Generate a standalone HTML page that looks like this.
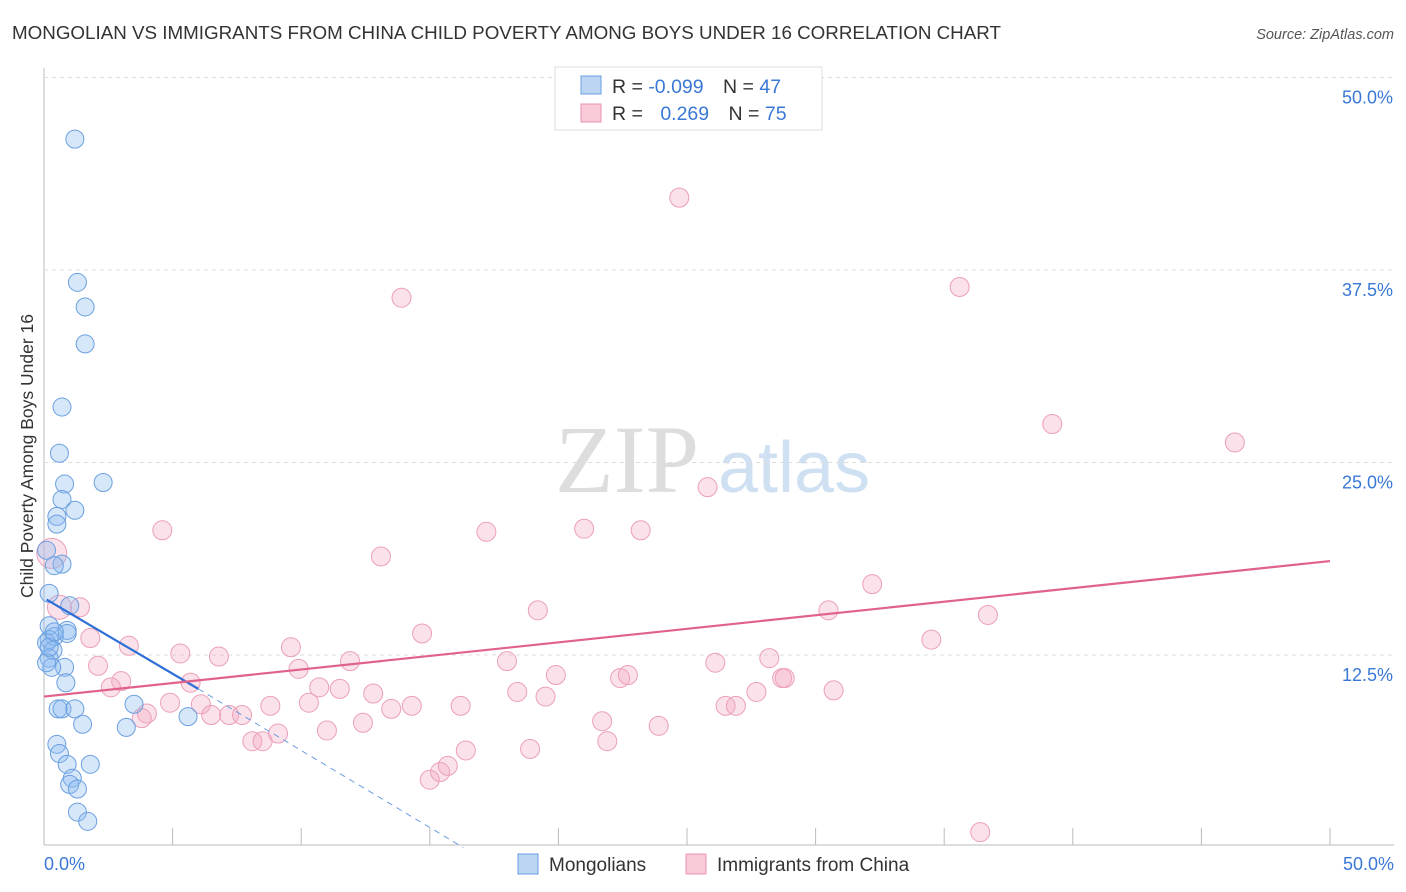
<!DOCTYPE html>
<html><head><meta charset="utf-8"><style>
body{margin:0;background:#fff;font-family:"Liberation Sans",sans-serif}
svg{display:block}
</style></head><body>
<svg id="c" width="1406" height="892">
<text x="12" y="39" font-size="18.8" fill="#333">MONGOLIAN VS IMMIGRANTS FROM CHINA CHILD POVERTY AMONG BOYS UNDER 16 CORRELATION CHART</text>
<text x="1394" y="39" font-size="14.5" fill="#555" font-style="italic" text-anchor="end">Source: ZipAtlas.com</text>
<text x="555" y="492" font-size="96" fill="#ddd" font-family="Liberation Serif,serif">ZIP</text>
<text x="718" y="492" font-size="72" fill="#cfe0f3">atlas</text>
<text transform="translate(33,456) rotate(-90)" font-size="17.5" fill="#333" text-anchor="middle">Child Poverty Among Boys Under 16</text>
<g id="grid"></g><g id="pts"></g><g id="lines"></g>
<g>
<rect x="555" y="67" width="267" height="63" fill="#fff" stroke="#ddd"/>
<rect x="581" y="76" width="20" height="18" fill="#bcd5f3" stroke="#6a9fe0"/>
<rect x="581" y="104" width="20" height="18" fill="#f9cbd8" stroke="#e890aa"/>
<text x="612" y="93" font-size="19.5" fill="#333">R = <tspan fill="#3a78d6">-0.099</tspan>  <tspan dx="14">N = </tspan><tspan fill="#3a78d6">47</tspan></text>
<text x="612" y="120" font-size="19.5" fill="#333">R = <tspan fill="#3a78d6" dx="12">0.269</tspan>  <tspan dx="14">N = </tspan><tspan fill="#3a78d6">75</tspan></text>
</g>
<g>
<rect x="518" y="854" width="20" height="20" fill="#bcd5f3" stroke="#6a9fe0"/>
<text x="549" y="871" font-size="19" fill="#333">Mongolians</text>
<rect x="686" y="854" width="20" height="20" fill="#f9cbd8" stroke="#e890aa"/>
<text x="717" y="871" font-size="19" fill="#333">Immigrants from China</text>
</g>
</svg>
<script>
const xTicks=[0,5,10,15,20,25,30,35,40,45,50];
const yTicks=[12.5,25,37.5,50];
const blueX=[1.2,1.3,1.6,1.6,0.7,0.6,2.3,0.8,0.7,1.2,0.5,0.5,0.1,0.7,0.4,0.2,1.0,0.2,0.9,0.4,0.2,0.9,0.1,0.35,0.2,0.8,0.3,0.85,0.55,0.7,1.2,3.5,1.5,3.2,5.6,0.5,0.6,1.8,0.9,1.1,1.0,1.3,1.3,1.7,0.1,0.2,0.4];
const blueY=[46.0,36.7,35.1,32.7,28.6,25.6,23.7,23.6,22.6,21.9,21.5,21.0,19.3,18.4,18.3,16.5,15.7,14.4,14.1,13.7,13.5,13.9,13.3,12.8,12.3,11.7,11.7,10.7,9.0,9.0,9.0,9.3,8.0,7.8,8.5,6.7,6.1,5.4,5.4,4.5,4.1,3.8,2.3,1.7,12.0,13.0,14.0];
const pinkX=[0.3,0.6,1.4,1.8,4.6,3.3,2.1,3.0,2.6,4.0,3.8,4.9,5.3,5.7,6.1,6.5,6.8,7.2,7.7,8.1,8.5,8.8,9.1,9.6,9.9,10.3,10.7,11.0,11.5,11.9,12.4,12.8,13.1,13.5,13.9,14.3,14.7,15.0,15.4,15.7,16.2,16.4,17.2,18.0,18.4,18.9,19.2,19.5,19.9,21.0,21.7,21.9,22.4,22.7,23.2,23.9,24.7,25.8,26.1,26.5,26.9,27.7,28.2,28.7,28.8,30.5,30.7,32.2,34.5,35.6,36.7,36.4,39.2,46.3];
const pinkY=[19.1,15.6,15.6,13.6,20.6,13.1,11.8,10.8,10.4,8.7,8.4,9.4,12.6,10.7,9.3,8.6,12.4,8.6,8.6,6.9,6.9,9.2,7.4,13.0,11.6,9.4,10.4,7.6,10.3,12.1,8.1,10.0,18.9,9.0,35.7,9.2,13.9,4.4,4.9,5.3,9.2,6.3,20.5,12.1,10.1,6.4,15.4,9.8,11.2,20.7,8.2,6.9,11.0,11.2,20.6,7.9,42.2,23.4,12.0,9.2,9.2,10.1,12.3,11.0,11.0,15.4,10.2,17.1,13.5,36.4,15.1,1.0,27.5,26.3];
const bx1=0.1,by1=16.1,bx2=6.0,by2=10.3,bx3=16.3,by3=0;
const px1=0,py1=9.8,px2=50,py2=18.6;
const NS="http://www.w3.org/2000/svg";
const X=v=>44+v*25.72, Y=v=>847.5-v*15.4;
function mk(t,a,p){const e=document.createElementNS(NS,t);for(const k in a)e.setAttribute(k,a[k]);p.appendChild(e);return e;}
const g=document.getElementById('grid');
const ax=mk('line',{x1:44,y1:68,x2:44,y2:845,stroke:'#bbb'},g);


const bx=mk('line',{x1:44,y1:845,x2:1394,y2:845,stroke:'#bbb'},g);


yTicks.forEach(t=>{const y=Y(t);
const l=mk('line',{x1:44,y1:y,x2:1394,y2:y,stroke:'#ddd','stroke-dasharray':'4,4'},g);


const tx=mk('text',{x:1393,y:y+26,'font-size':18,fill:'#3a78d6','text-anchor':'end'},g);tx.textContent=t.toFixed(1)+'%';

});
xTicks.forEach(t=>{if(t===0)return;const x=X(t);
const l=mk('line',{x1:x,y1:828,x2:x,y2:845,stroke:'#bbb'},g);

});
[[0,'start',44],[50,'end',1394]].forEach(([v,a,x])=>{const tx=mk('text',{x:x,y:870,'font-size':18,fill:'#3a78d6','text-anchor':a},g);tx.textContent=v.toFixed(1)+'%';

});
const p=document.getElementById('pts');
pinkX.forEach((v,i)=>{const c=mk('circle',{cx:X(v),cy:Y(pinkY[i]),r:i<2?(i==0?15:12):9.5,fill:'rgba(244,170,195,0.35)',stroke:'#eba0b8','stroke-width':1},p);

});
blueX.forEach((v,i)=>{const c=mk('circle',{cx:X(v),cy:Y(blueY[i]),r:9,fill:'rgba(140,185,240,0.35)',stroke:'#6a9fe0','stroke-width':1},p);

});
const L=document.getElementById('lines');
const a=mk('line',{x1:X(bx1),y1:Y(by1),x2:X(bx2),y2:Y(by2),stroke:'#2d6fd6','stroke-width':2.2},L);


const b=mk('line',{x1:X(bx2),y1:Y(by2),x2:X(bx3),y2:Y(by3),stroke:'#6a9fe0','stroke-width':1,'stroke-dasharray':'6,5'},L);


const c=mk('line',{x1:X(px1),y1:Y(py1),x2:X(px2),y2:Y(py2),stroke:'#e0628c','stroke-width':2.2},L);


</script>
</body></html>
